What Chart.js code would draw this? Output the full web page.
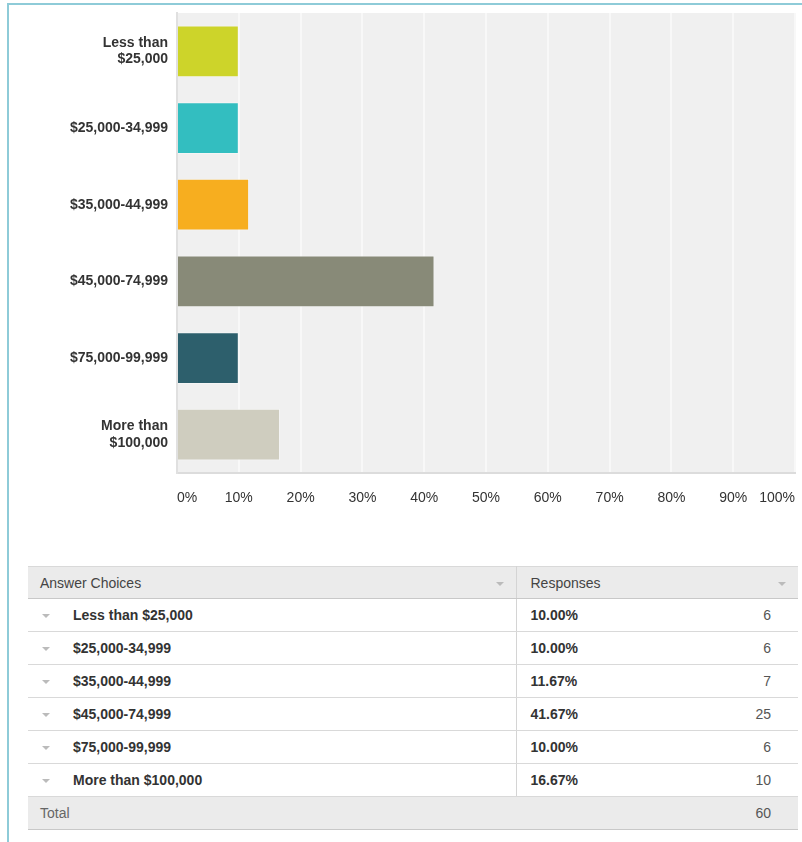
<!DOCTYPE html>
<html lang="en">
<head>
<meta charset="UTF-8">
<title>Household income</title>
<script src="https://cdn.jsdelivr.net/npm/chart.js"></script>
<style>
    body { margin: 0; background: #fff; font-family: "Liberation Sans", Arial, sans-serif; }
    .frame {
        position: absolute; left: 7px; top: 3px; right: 0; bottom: 0;
        border-top: 2px solid #8ecbd8; border-left: 2px solid #8ecbd8;
    }
    #chart { position: absolute; left: 0; top: 0; }
    table {
        position: absolute; left: 28px; top: 566px; width: 770px;
        border-collapse: collapse; font-size: 14px; color: #333;
    }
    td, th { padding: 0; height: 32px; border-bottom: 1px solid #d9d9d9; }
    thead th {
        background: #ebebeb; font-weight: normal; color: #444; text-align: left;
        border-top: 1px solid #d9d9d9; border-bottom: 1px solid #c8c8c8; position: relative;
    }
    thead th { height: 31px; }
    th.choice { width: 488px; padding-left: 12px; box-sizing: border-box; border-right: 1px solid #d4d4d4; }
    th.resp { padding-left: 14px; }
    .sort::after {
        content: ""; position: absolute; right: 12px; top: 15px;
        border-left: 4px solid transparent; border-right: 4px solid transparent; border-top: 4px solid #bbb;
    }
    td.label { font-weight: bold; padding-left: 45px; position: relative; border-right: 1px solid #d4d4d4; }
    td.label::before {
        content: ""; position: absolute; left: 14px; top: 15px;
        border-left: 4px solid transparent; border-right: 4px solid transparent; border-top: 4px solid #bbb;
    }
    td.pct { font-weight: bold; padding-left: 14px; }
    td.num { text-align: right; padding-right: 27px; color: #555; }
    tfoot td { background: #ebebeb; color: #666; border-bottom: 1px solid #c8c8c8; }
    tfoot td.tlabel { padding-left: 12px; }
</style>
</head>
<body>
<div class="frame"></div>
<canvas id="chart" width="802" height="520"></canvas>

<table id="responses">
    <thead>
        <tr>
            <th class="choice sort">Answer Choices</th>
            <th class="resp sort" colspan="2">Responses</th>
        </tr>
    </thead>
    <tbody></tbody>
    <tfoot>
        <tr>
            <td class="tlabel" colspan="2">Total</td>
            <td class="num" id="total"></td>
        </tr>
    </tfoot>
</table>

<script>
    // income brackets, axis labels wrap on two lines where needed
    const categories = [
        ['Less than', '$25,000'],
        '$25,000-34,999',
        '$35,000-44,999',
        '$45,000-74,999',
        '$75,000-99,999',
        ['More than', '$100,000']
    ];
    const choices = [
        'Less than $25,000',
        '$25,000-34,999',
        '$35,000-44,999',
        '$45,000-74,999',
        '$75,000-99,999',
        'More than $100,000'
    ];
    const percents = [10.00, 10.00, 11.67, 41.67, 10.00, 16.67];
    const counts = [6, 6, 7, 25, 6, 10];
    const total = 60;
    const xTicks = [0, 10, 20, 30, 40, 50, 60, 70, 80, 90, 100];
    const barColors = ['#cdd42a', '#33bec0', '#f7ae1f', '#888a78', '#2d5f6c', '#cfcdbf'];

    const fontFamily = '"Liberation Sans", Arial, sans-serif';

    // grey panel behind the bars
    const plotBg = {
        id: 'plotBg',
        beforeDraw(chart) {
            const { ctx, chartArea: a } = chart;
            ctx.save();
            ctx.fillStyle = '#f0f0f0';
            ctx.fillRect(a.left, a.top, a.right - a.left, a.bottom - a.top);
            ctx.restore();
        }
    };

    new Chart(document.getElementById('chart'), {
        type: 'bar',
        data: {
            labels: categories,
            datasets: [{
                data: percents,
                backgroundColor: barColors,
                borderColor: 'rgba(255,255,255,0.35)',
                borderWidth: 1,
                barPercentage: 0.675,
                categoryPercentage: 1
            }]
        },
        options: {
            indexAxis: 'y',
            responsive: false,
            animation: false,
            layout: { padding: { top: 13, right: 7, left: 0, bottom: 0 } },
            plugins: { legend: { display: false }, tooltip: { enabled: false } },
            scales: {
                x: {
                    min: 0,
                    max: 100,
                    afterBuildTicks(axis) { axis.ticks = xTicks.map(v => ({ value: v })); },
                    afterFit(axis) {
                        axis.height = 47;
                        axis.paddingLeft = 0;
                        axis.paddingRight = 0;
                    },
                    grid: { color: '#f8f8f8', lineWidth: 2, drawTicks: false },
                    border: { color: '#dcdcdc', width: 2 },
                    ticks: {
                        align: 'inner',
                        padding: 17,
                        color: '#333',
                        font: { family: fontFamily, size: 14 },
                        callback: v => v + '%'
                    }
                },
                y: {
                    afterFit(axis) {
                        axis.width = 177;
                        axis.paddingTop = 0;
                        axis.paddingBottom = 0;
                    },
                    grid: { display: false, drawTicks: false },
                    border: { color: '#e0e0e0', width: 2 },
                    ticks: {
                        padding: 9,
                        color: '#333',
                        font: { family: fontFamily, size: 14, weight: 'bold', lineHeight: 1.15 }
                    }
                }
            }
        },
        plugins: [plotBg]
    });

    // response table under the chart
    const tbody = document.querySelector('#responses tbody');
    choices.forEach((c, i) => {
        const tr = document.createElement('tr');
        tr.innerHTML = `<td class="label">${c}</td>` +
            `<td class="pct">${percents[i].toFixed(2)}%</td>` +
            `<td class="num">${counts[i]}</td>`;
        tbody.appendChild(tr);
    });
    document.getElementById('total').textContent = total;
</script>
</body>
</html>
